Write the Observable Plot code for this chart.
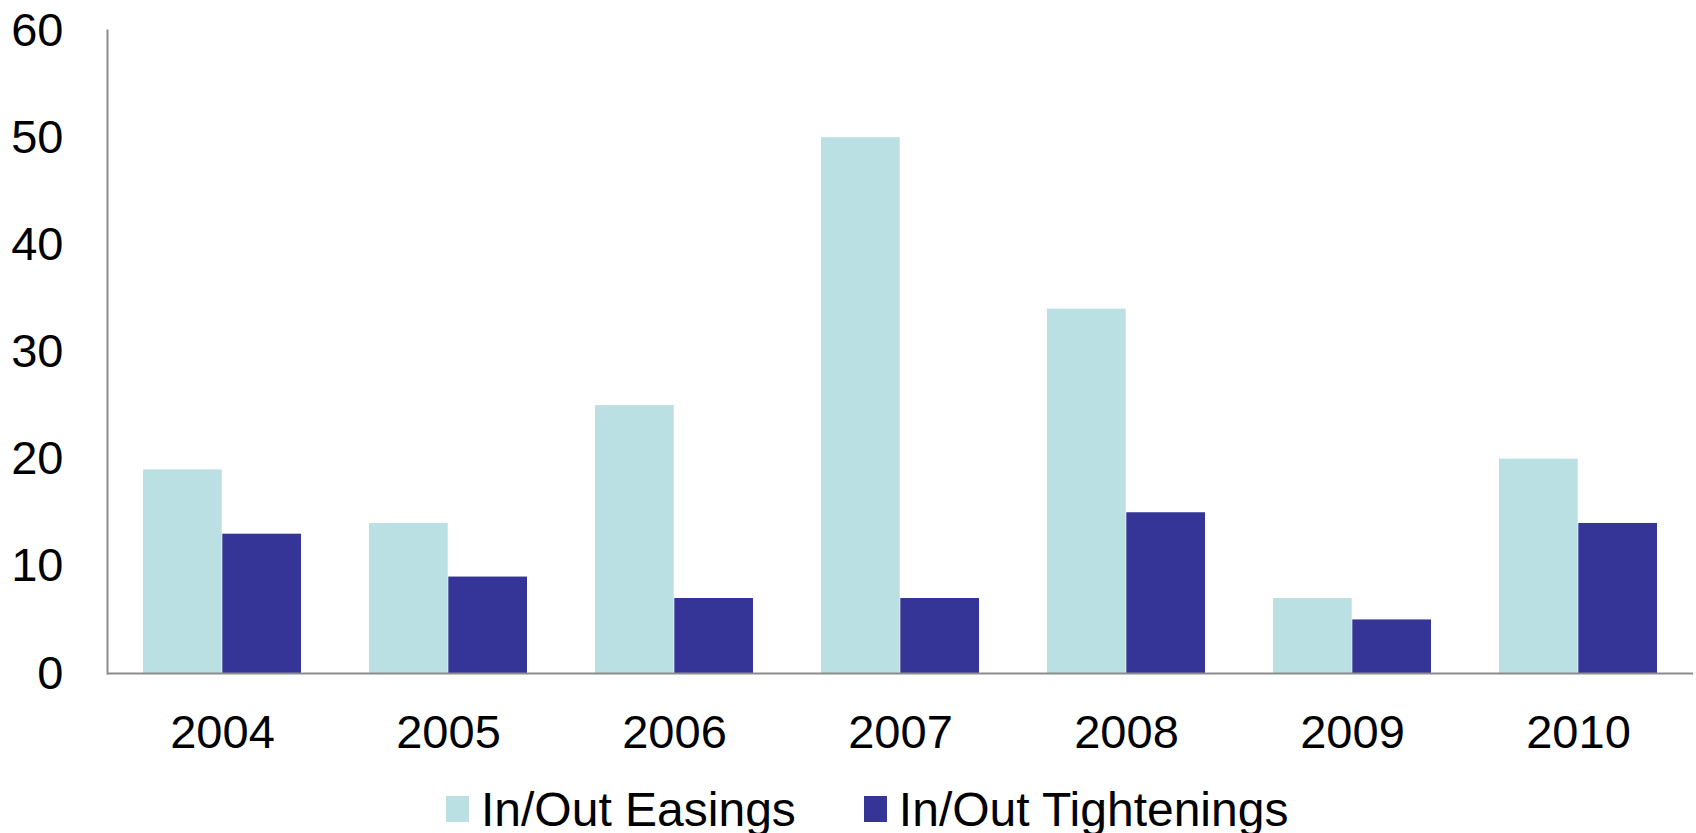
<!DOCTYPE html>
<html>
<head>
<meta charset="utf-8">
<script src="https://cdn.jsdelivr.net/npm/d3@7"></script>
<script src="https://cdn.jsdelivr.net/npm/@observablehq/plot@0.6"></script>
<style>
  html, body { margin: 0; padding: 0; background: #fff; }
  body { width: 1696px; height: 833px; overflow: hidden; font-family: "Liberation Sans", Arial, sans-serif; }
  #legend { display: flex; align-items: center; height: 78px; padding-left: 446px; font-size: 48px; color: #000; }
  .item { display: flex; align-items: center; }
  .sw { width: 23px; height: 26px; margin-right: 12px; }
</style>
</head>
<body>
<div id="chart"></div>
<div id="legend"></div>
<script>
const years = ["2004", "2005", "2006", "2007", "2008", "2009", "2010"];
const easings = [19, 14, 25, 50, 34, 7, 20];
const tightenings = [13, 9, 7, 7, 15, 5, 14];
const seriesNames = ["In/Out Easings", "In/Out Tightenings"];
const seriesColors = ["#BBE0E3", "#353598"];
const yTicks = [0, 10, 20, 30, 40, 50, 60];

const W = 1696, H = 770, ML = 107, MR = 3, MT = 30, MB = 97;
const xOpts = {type: "band", domain: years, paddingInner: 0.3, paddingOuter: 0.15};
const xScale = Plot.scale({x: {...xOpts, range: [ML, W - MR]}});
const half = xScale.bandwidth / 2;

const easeData = years.map((yr, i) => ({year: yr, value: easings[i]}));
const tightData = years.map((yr, i) => ({year: yr, value: tightenings[i]}));

const chart = Plot.plot({
  width: W,
  height: H,
  marginTop: MT,
  marginBottom: MB,
  marginLeft: ML,
  marginRight: MR,
  style: {fontFamily: "'Liberation Sans', Arial, sans-serif", fontSize: "47px", color: "#000", background: "#fff"},
  x: {...xOpts, label: null},
  y: {domain: [0, 60], ticks: yTicks, label: null},
  marks: [
    Plot.barY(easeData, {x: "year", y: "value", fill: seriesColors[0], insetLeft: 0, insetRight: half}),
    Plot.barY(tightData, {x: "year", y: "value", fill: seriesColors[1], insetLeft: half, insetRight: 0}),
    Plot.axisY({ticks: yTicks, tickSize: 0, tickPadding: 44, fontSize: 47, label: null}),
    Plot.axisX({anchor: "bottom", tickSize: 0, tickPadding: 41, fontSize: 47, label: null}),
    Plot.frame({anchor: "left", stroke: "#8c8c8c", strokeWidth: 2}),
    Plot.ruleY([0], {stroke: "#8c8c8c", strokeWidth: 2})
  ]
});
document.getElementById("chart").appendChild(chart);

const legend = document.getElementById("legend");
seriesNames.forEach((name, i) => {
  const item = document.createElement("div");
  item.className = "item";
  if (i > 0) item.style.marginLeft = "68px";
  const sw = document.createElement("div");
  sw.className = "sw";
  sw.style.background = seriesColors[i];
  const label = document.createElement("span");
  label.textContent = name;
  item.appendChild(sw);
  item.appendChild(label);
  legend.appendChild(item);
});
</script>
</body>
</html>
